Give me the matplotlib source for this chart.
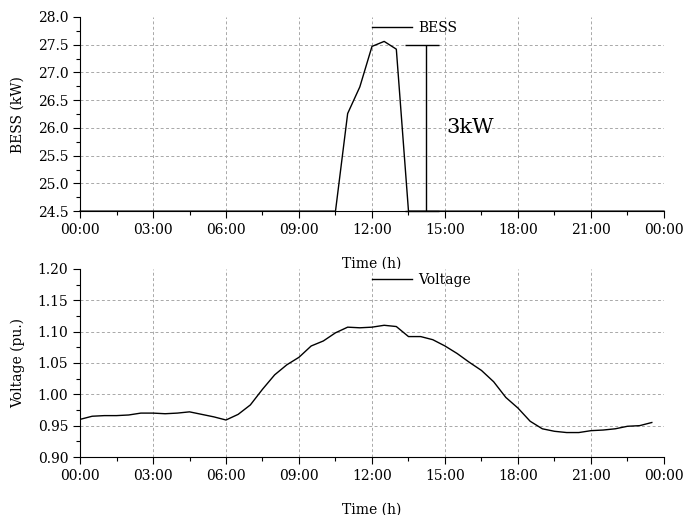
import matplotlib
matplotlib.use("Agg")
import matplotlib.pyplot as plt
from matplotlib.ticker import MultipleLocator, FormatStrFormatter

plt.rcParams['font.family'] = ['DejaVu Serif']
plt.rcParams['font.size'] = 10

# BESS data (hours, kW)
bess_t = [0, 10.5, 11.0, 11.5, 12.0, 12.5, 13.0, 13.5, 24]
bess_p = [24.5, 24.5, 26.26, 26.74, 27.47, 27.56, 27.42, 24.5, 24.5]

# Voltage data (hours, pu)
volt_t = [0, 0.5, 1, 1.5, 2, 2.5, 3, 3.5, 4, 4.5, 5, 5.5, 6, 6.5, 7, 7.5, 8, 8.5,
          9, 9.5, 10, 10.5, 11, 11.5, 12, 12.5, 13, 13.5, 14, 14.5, 15, 15.5, 16,
          16.5, 17, 17.5, 18, 18.5, 19, 19.5, 20, 20.5, 21, 21.5, 22, 22.5, 23, 23.5]
volt_v = [0.960, 0.965, 0.966, 0.966, 0.967, 0.970, 0.970, 0.969, 0.970, 0.972,
          0.968, 0.964, 0.959, 0.968, 0.983, 1.008, 1.031, 1.047, 1.059, 1.077,
          1.085, 1.098, 1.107, 1.106, 1.107, 1.110, 1.108, 1.092, 1.092, 1.087,
          1.077, 1.065, 1.051, 1.038, 1.020, 0.995, 0.978, 0.957, 0.945, 0.941,
          0.939, 0.939, 0.942, 0.943, 0.945, 0.949, 0.950, 0.955]

xticks = [0, 3, 6, 9, 12, 15, 18, 21, 24]
xticklabels = ["00:00", "03:00", "06:00", "09:00", "12:00", "15:00", "18:00", "21:00", "00:00"]

# annotation
ann_x = 14.2
ann_cap = (13.35, 14.75)
ann_range = (24.5, 27.5)
ann_text = "3kW"

fig = plt.figure(figsize=(6.85, 5.15), dpi=100)
ax1 = fig.add_axes([0.1168, 0.590, 0.8525, 0.377])
ax2 = fig.add_axes([0.1168, 0.1126, 0.8525, 0.3654])

def style(ax, ylim, ymaj, ymin):
    ax.set_xlim(0, 24)
    ax.set_ylim(*ylim)
    ax.set_xticks(xticks)
    ax.set_xticklabels(xticklabels)
    ax.xaxis.set_minor_locator(MultipleLocator(1.5))
    ax.yaxis.set_major_locator(MultipleLocator(ymaj))
    ax.yaxis.set_minor_locator(MultipleLocator(ymin))
    for s in ['top', 'right']:
        ax.spines[s].set_visible(False)
    ax.tick_params(which='major', direction='out', length=5, width=0.8)
    ax.tick_params(which='minor', direction='out', length=3, width=0.8)
    ax.grid(True, which='major', linestyle=(0, (3, 2.5)), color='#a8a8a8', linewidth=0.7)
    for gl, v in zip(ax.get_xgridlines(), ax.get_xticks()):
        if v <= 0 or v >= 24:
            gl.set_visible(False)
    yt = ax.get_yticks()
    for gl, v in zip(ax.get_ygridlines(), yt):
        if v <= ylim[0] + 1e-9 or v >= ylim[1] - 1e-9:
            gl.set_visible(False)
    ax.set_xlabel("Time (h)", labelpad=14)

ax1.plot(bess_t, bess_p, color='black', linewidth=1.0, label='BESS', clip_on=False, zorder=3)
style(ax1, (24.5, 28.0), 0.5, 0.25)
ax1.yaxis.set_major_formatter(FormatStrFormatter('%.1f'))
ax1.set_ylabel("BESS (kW)", labelpad=9)
ax1.vlines(ann_x, ann_range[0], ann_range[1], color='black', linewidth=1.0)
ax1.hlines(ann_range, ann_cap[0], ann_cap[1], color='black', linewidth=1.0, clip_on=False)
ax1.text(15.05, 26.0, ann_text, fontsize=15, va='center', ha='left')
ax1.legend(loc='center left', bbox_to_anchor=(0.5, 0.943), frameon=False,
           borderaxespad=0, borderpad=0, handlelength=2.9, handletextpad=0.4)

ax2.plot(volt_t, volt_v, color='black', linewidth=1.0, label='Voltage')
style(ax2, (0.90, 1.20), 0.05, 0.025)
ax2.yaxis.set_major_formatter(FormatStrFormatter('%.2f'))
ax2.set_ylabel("Voltage (pu.)", labelpad=9)
ax2.legend(loc='center left', bbox_to_anchor=(0.5, 0.94), frameon=False,
           borderaxespad=0, borderpad=0, handlelength=2.9, handletextpad=0.4)

fig.savefig("out.png", dpi=100)
